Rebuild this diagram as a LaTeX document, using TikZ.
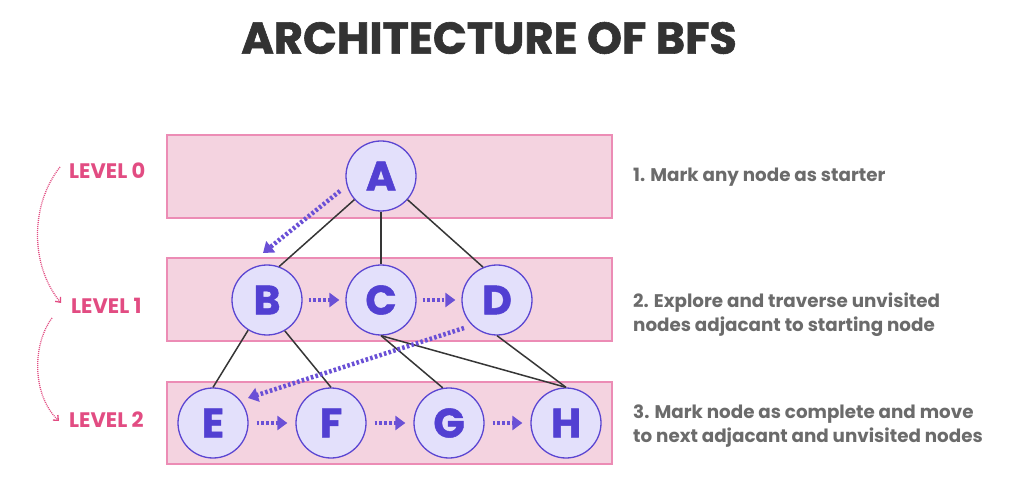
\documentclass[tikz,border=0pt]{standalone}
\usepackage{fontspec}
\setmainfont{Poppins}
\newfontfamily\heavy{Poppins Bold}[FakeBold=1.3]
\usetikzlibrary{arrows.meta}
\definecolor{rectfill}{HTML}{F4D3E0}
\definecolor{rectdraw}{HTML}{EC8CB5}
\definecolor{nodefill}{HTML}{E3E0FB}
\definecolor{nodedraw}{HTML}{5B46D2}
\definecolor{letter}{HTML}{5240D2}
\definecolor{travc}{HTML}{6A50D6}
\definecolor{edgec}{HTML}{363636}
\definecolor{lvl}{HTML}{E24C82}
\definecolor{desc}{HTML}{6B6B6B}
\definecolor{titlec}{HTML}{333333}
\begin{document}
\begin{tikzpicture}[x=1pt,y=-1pt,
 band/.style={fill=rectfill,draw=rectdraw,line width=1.2pt},
 vtx/.style={circle,minimum size=70pt,inner sep=0pt,fill=nodefill,draw=nodedraw,line width=1.3pt,text=letter,font=\fontsize{41}{41}\selectfont\heavy},
 tree/.style={draw=edgec,line width=1.5pt},
 trav/.style={draw=travc,line width=4.5pt,dash pattern=on 2.6pt off 2.2pt,-{Triangle[length=10pt,width=14pt]}},
 lvlarrow/.style={draw=lvl,line width=1.3pt,dash pattern=on 1pt off 1pt,-{Straight Barb[length=4pt,width=7pt]}},
 lvltext/.style={anchor=west,text=lvl,font=\fontsize{21}{21}\selectfont\bfseries,inner sep=0pt},
 desctext/.style={anchor=west,align=left,text=desc,font=\fontsize{18.3}{24.5}\selectfont\bfseries,inner sep=0pt},
]
\useasboundingbox[fill=white] (0,0) rectangle (1028,478);
\node[text=titlec,font=\fontsize{44.5}{44.5}\selectfont\heavy] (title) at (489,38) {ARCHITECTURE OF BFS};
% bands
\path[band] (167,135) rectangle (612,218);
\path[band] (167,258) rectangle (612,341);
\path[band] (167,382) rectangle (612,464);
% nodes
\node[vtx] (A) at (381,176) {A};
\node[vtx] (B) at (267,300) {B};
\node[vtx] (C) at (381,300) {C};
\node[vtx] (D) at (497,300) {D};
\node[vtx] (E) at (213,423) {E};
\node[vtx] (F) at (331,423) {F};
\node[vtx] (G) at (449,423) {G};
\node[vtx] (H) at (566,423) {H};
% tree edges
\draw[tree] (A) -- (B.70);
\draw[tree] (A) -- (C);
\draw[tree] (A) -- (D.113);
\draw[tree] (B.238) -- (E.north);
\draw[tree] (B.300) -- (F.north);
\draw[tree] (C.south) -- (G.100);
\draw[tree] (C.south) -- (H.north);
\draw[tree] (D.south) -- (H.north);
% traversal
\coordinate (ab1) at (340,191);
\coordinate (ab2) at (263,253);
\coordinate (de1) at (464,328);
\coordinate (de2) at (248,398);
\draw[trav] (ab1) -- (ab2);
\draw[trav,shorten <=6pt,shorten >=6pt] (B) -- (C);
\draw[trav,shorten <=6pt,shorten >=6pt] (C) -- (D);
\draw[trav] (de1) -- (de2);
\draw[trav,shorten <=8pt,shorten >=8pt] (E) -- (F);
\draw[trav,shorten <=8pt,shorten >=8pt] (F) -- (G);
\draw[trav,shorten <=8pt,shorten >=8pt] (G) -- (H);
% levels
\node[lvltext] (L0) at (69,171) {LEVEL 0};
\node[lvltext] (L1) at (71,306) {LEVEL 1};
\node[lvltext] (L2) at (69,420) {LEVEL 2};
\coordinate (c0s) at (60,167);
\coordinate (c1e) at (61,303);
\coordinate (c1s) at (52,318);
\coordinate (c2e) at (59,421);
\draw[lvlarrow] (c0s) .. controls (30,205) and (30,265) .. (c1e);
\draw[lvlarrow] (c1s) .. controls (32,345) and (32,395) .. (c2e);
% descriptions
\node[desctext] (d1) at (633,177) {1. Mark any node as starter};
\node[desctext] (d2) at (633,314.5) {2. Explore and traverse unvisited\\nodes adjacant to starting node};
\node[desctext] (d3) at (633,426) {3. Mark node as complete and move\\to next adjacant and unvisited nodes};
\end{tikzpicture}
\end{document}
